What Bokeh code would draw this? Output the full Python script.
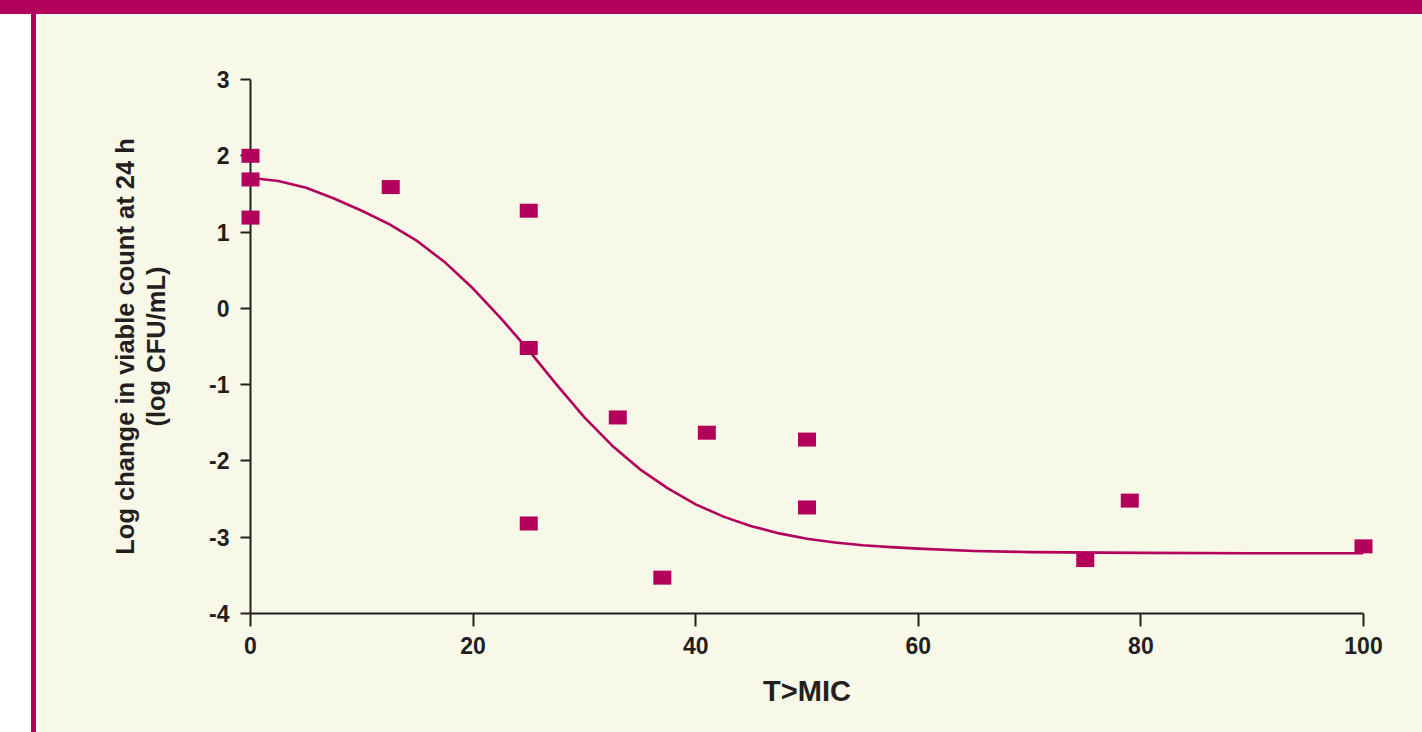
from bokeh.plotting import figure
from bokeh.models import FixedTicker, Range1d, Div
from bokeh.layouts import column, row
from bokeh.embed import file_html
from bokeh.resources import INLINE

# Observed data points
t_mic = [0, 0, 0, 12.6, 25, 25, 25, 33, 37, 41, 50, 50, 75, 79, 100]
log_change = [2.0, 1.69, 1.19, 1.59, 1.28, -0.52, -2.82, -1.43, -3.53, -1.63, -1.72, -2.61, -3.30, -2.52, -3.12]

# Fitted curve
curve_x = [0, 2.5, 5, 7.5, 10, 12.5, 15, 17.5, 20, 22.5, 25, 27.5, 30, 32.5, 35, 37.5,
           40, 42.5, 45, 47.5, 50, 52.5, 55, 57.5, 60, 65, 70, 80, 90, 100]
curve_y = [1.71, 1.67, 1.58, 1.44, 1.28, 1.10, 0.88, 0.60, 0.26, -0.13, -0.55, -1.00, -1.43, -1.80,
           -2.11, -2.36, -2.57, -2.73, -2.855, -2.95, -3.02, -3.07, -3.105, -3.13, -3.15, -3.18,
           -3.195, -3.205, -3.21, -3.21]

x_ticks = [0, 20, 40, 60, 80, 100]
y_ticks = [-4, -3, -2, -1, 0, 1, 2, 3]
y_tick_labels = ["-4", "-3", "-2", "-1", "0", "1", "2", "3"]

MAGENTA = "#b3005b"
CREAM = "#f8f8e8"
INK = "#231f20"
FONT = "Liberation Sans"

W, H = 1422, 732
bar_top = 14
white_w, mag_w = 31, 5
fig_w = W - white_w - mag_w
fig_h = H - bar_top

# frame: x 250..1363, y 79..613 (page coordinates)
p = figure(width=fig_w, height=fig_h, output_backend="svg", toolbar_location=None,
           x_range=Range1d(0, 100), y_range=Range1d(-4, 3),
           min_border_left=250 - white_w - mag_w, min_border_right=W - 1363,
           min_border_top=79 - bar_top, min_border_bottom=H - 613)
p.background_fill_color = CREAM
p.border_fill_color = CREAM
p.outline_line_color = None
p.grid.visible = False

p.line(curve_x, curve_y, line_color=MAGENTA, line_width=2.6, line_join="round")
pts = p.rect(t_mic, log_change, width=18, height=14, width_units="screen", height_units="screen",
             fill_color=MAGENTA, line_color=None)
pts.level = "overlay"

for ax in (p.xaxis[0], p.yaxis[0]):
    ax.axis_line_color = INK
    ax.axis_line_width = 2
    ax.major_tick_line_color = INK
    ax.major_tick_line_width = 2
    ax.minor_tick_line_color = None
    ax.major_tick_in = 0
    ax.major_label_text_font = FONT
    ax.major_label_text_font_style = "bold"
    ax.major_label_text_font_size = "23px"
    ax.major_label_text_color = INK
    ax.axis_label_text_font = FONT
    ax.axis_label_text_font_style = "bold"
    ax.axis_label_text_color = INK

xa = p.xaxis[0]
xa.ticker = FixedTicker(ticks=x_ticks)
xa.major_tick_out = 13
xa.major_label_standoff = 10
xa.axis_label = "T>MIC"
xa.axis_label_text_font_size = "29px"
xa.axis_label_standoff = 18

ya = p.yaxis[0]
ya.ticker = FixedTicker(ticks=y_ticks)
ya.major_label_overrides = {t: s for t, s in zip(y_ticks, y_tick_labels)}
ya.major_tick_out = 10
ya.major_label_standoff = 11
ya.axis_label = "Log change in viable count at 24 h\n(log CFU/mL)"
ya.axis_label_text_font_size = "25.5px"
ya.axis_label_text_line_height = 1.1
ya.axis_label_standoff = 36

top = Div(text="", width=W, height=bar_top, margin=(0, 0, 0, 0),
          styles={"background-color": MAGENTA})
white = Div(text="", width=white_w, height=fig_h, margin=(0, 0, 0, 0),
            styles={"background-color": "#ffffff"})
mag = Div(text="", width=mag_w, height=fig_h, margin=(0, 0, 0, 0),
          styles={"background-color": MAGENTA})
layout = column(top, row(white, mag, p, spacing=0, margin=(0, 0, 0, 0)),
                spacing=0, margin=(0, 0, 0, 0))

open("out.html", "w").write(file_html(layout, INLINE))
